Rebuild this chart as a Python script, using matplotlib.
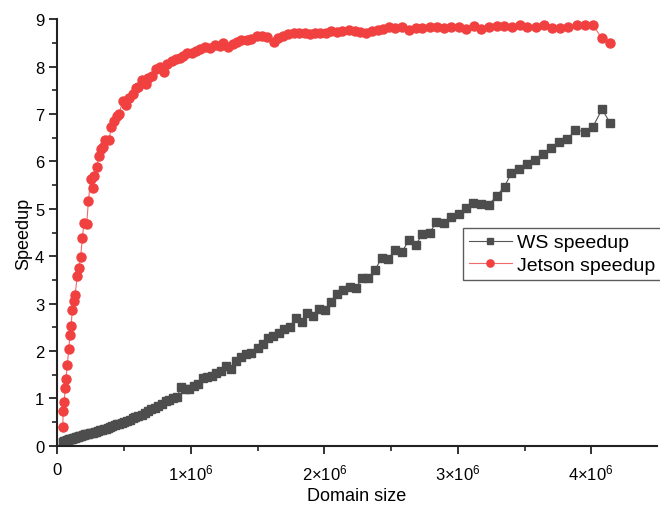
import numpy as np
import matplotlib
matplotlib.use("Agg")
import matplotlib.pyplot as plt
from matplotlib.ticker import MultipleLocator, FuncFormatter

plt.rcParams['font.family'] = ['Liberation Sans', 'DejaVu Sans']
plt.rcParams['mathtext.fontset'] = 'custom'
plt.rcParams['mathtext.rm'] = 'Liberation Sans'
plt.rcParams['mathtext.it'] = 'Liberation Sans:italic'

# WS speedup (domain size in millions)
ws_x = [0.040, 0.044, 0.048, 0.052, 0.056, 0.061, 0.066, 0.071, 0.076, 0.082,
        0.088, 0.094, 0.100, 0.107, 0.114, 0.121, 0.128, 0.136, 0.144, 0.152,
        0.161, 0.170, 0.179, 0.189, 0.199, 0.209, 0.220, 0.231, 0.242, 0.254,
        0.266, 0.279, 0.292, 0.305, 0.319, 0.333, 0.348, 0.363, 0.379, 0.395,
        0.411, 0.428, 0.446, 0.464, 0.483, 0.502, 0.522, 0.542, 0.563, 0.585,
        0.607, 0.630, 0.654, 0.678, 0.703, 0.729, 0.755, 0.782, 0.810, 0.838,
        0.867, 0.897, 0.927, 0.958, 0.989, 1.021, 1.054, 1.087, 1.121, 1.156,
        1.191, 1.227, 1.263, 1.300, 1.338, 1.376, 1.414, 1.454, 1.504, 1.541,
        1.579, 1.616, 1.661, 1.698, 1.741, 1.786, 1.829, 1.871, 1.916, 1.960,
        2.005, 2.050, 2.095, 2.140, 2.190, 2.235, 2.280, 2.330, 2.380, 2.430,
        2.480, 2.529, 2.579, 2.634, 2.684, 2.734, 2.789, 2.840, 2.894, 2.950,
        3.006, 3.060, 3.117, 3.170, 3.230, 3.290, 3.350, 3.400, 3.460, 3.520,
        3.580, 3.640, 3.700, 3.760, 3.820, 3.880, 3.950, 4.010, 4.080, 4.140]
ws_y = [0.08, 0.09, 0.09, 0.10, 0.10, 0.11, 0.11, 0.12, 0.12, 0.13,
        0.14, 0.14, 0.15, 0.15, 0.16, 0.17, 0.17, 0.18, 0.19, 0.19,
        0.20, 0.21, 0.21, 0.22, 0.23, 0.24, 0.24, 0.25, 0.26, 0.27,
        0.28, 0.29, 0.30, 0.31, 0.33, 0.34, 0.35, 0.36, 0.37, 0.39,
        0.41, 0.43, 0.45, 0.47, 0.49, 0.51, 0.52, 0.55, 0.58, 0.61,
        0.63, 0.66, 0.70, 0.73, 0.77, 0.80, 0.83, 0.88, 0.95, 0.97,
        1.00, 1.04, 1.24, 1.20, 1.19, 1.27, 1.30, 1.42, 1.45, 1.48,
        1.54, 1.57, 1.68, 1.63, 1.78, 1.88, 1.93, 1.96, 2.06, 2.15,
        2.27, 2.31, 2.38, 2.46, 2.51, 2.69, 2.62, 2.81, 2.73, 2.88,
        2.86, 3.03, 3.21, 3.28, 3.36, 3.32, 3.53, 3.54, 3.71, 3.97,
        3.95, 4.13, 4.08, 4.34, 4.23, 4.47, 4.49, 4.73, 4.71, 4.82,
        4.89, 5.02, 5.12, 5.10, 5.08, 5.27, 5.47, 5.75, 5.83, 5.94,
        6.04, 6.15, 6.28, 6.40, 6.47, 6.66, 6.63, 6.72, 7.10, 6.82]

# Jetson speedup (domain size in millions)
jet_x = [0.040, 0.044, 0.052, 0.057, 0.064, 0.074, 0.085, 0.094, 0.102, 0.112,
         0.122, 0.132, 0.149, 0.162, 0.174, 0.187, 0.199, 0.219, 0.232, 0.249,
         0.264, 0.277, 0.294, 0.311, 0.326, 0.344, 0.356, 0.386, 0.404, 0.424,
         0.444, 0.461, 0.489, 0.516, 0.538, 0.568, 0.588, 0.606, 0.631, 0.661,
         0.680, 0.706, 0.738, 0.768, 0.798, 0.823, 0.855, 0.888, 0.918, 0.942,
         0.972, 1.005, 1.037, 1.067, 1.105, 1.142, 1.180, 1.217, 1.242, 1.279,
         1.317, 1.347, 1.379, 1.417, 1.454, 1.496, 1.536, 1.571, 1.621, 1.654,
         1.691, 1.728, 1.771, 1.811, 1.853, 1.891, 1.928, 1.966, 2.010, 2.053,
         2.091, 2.135, 2.185, 2.228, 2.270, 2.315, 2.360, 2.402, 2.439, 2.484,
         2.527, 2.585, 2.634, 2.684, 2.734, 2.789, 2.844, 2.896, 2.951, 3.006,
         3.063, 3.118, 3.175, 3.233, 3.290, 3.346, 3.406, 3.463, 3.521, 3.583,
         3.643, 3.704, 3.767, 3.827, 3.892, 3.952, 4.014, 4.077, 4.140]
jet_y = [0.40, 0.73, 0.92, 1.21, 1.41, 1.71, 2.04, 2.34, 2.53, 2.87,
         3.06, 3.19, 3.58, 3.76, 3.99, 4.39, 4.70, 4.67, 5.16, 5.62,
         5.44, 5.70, 5.89, 6.12, 6.26, 6.31, 6.45, 6.45, 6.72, 6.85,
         6.95, 7.00, 7.27, 7.19, 7.33, 7.42, 7.54, 7.58, 7.71, 7.63,
         7.75, 7.81, 7.95, 8.00, 7.88, 8.05, 8.12, 8.16, 8.19, 8.23,
         8.28, 8.28, 8.32, 8.37, 8.42, 8.39, 8.46, 8.44, 8.49, 8.42,
         8.47, 8.53, 8.56, 8.56, 8.58, 8.65, 8.64, 8.62, 8.53, 8.60,
         8.65, 8.69, 8.71, 8.70, 8.70, 8.69, 8.70, 8.70, 8.72, 8.76,
         8.74, 8.76, 8.78, 8.76, 8.74, 8.72, 8.76, 8.77, 8.80, 8.83,
         8.81, 8.83, 8.77, 8.81, 8.81, 8.83, 8.83, 8.81, 8.83, 8.83,
         8.79, 8.85, 8.79, 8.83, 8.85, 8.85, 8.83, 8.88, 8.83, 8.83,
         8.87, 8.81, 8.81, 8.83, 8.88, 8.88, 8.88, 8.60, 8.50]

ws_color = '#4d4d4d'
jet_color = '#f04040'

fig = plt.figure(figsize=(6.6, 5.06), dpi=100)
ax = fig.add_axes([0.087, 0.117, 0.908, 0.843])

ax.plot(np.array(ws_x) * 1e6, ws_y, color='#555555', linewidth=0.8,
        marker='s', markersize=6, markerfacecolor=ws_color,
        markeredgecolor=ws_color, label='WS speedup')
ax.plot(np.array(jet_x) * 1e6, jet_y, color='#f26b6b', linewidth=0.8,
        marker='o', markersize=6.5, markerfacecolor=jet_color,
        markeredgecolor=jet_color, label='Jetson speedup')

ax.set_xlim(0, 4.49e6)
ax.set_ylim(0, 9)

ax.xaxis.set_major_locator(MultipleLocator(1e6))
ax.xaxis.set_minor_locator(MultipleLocator(0.5e6))
ax.yaxis.set_major_locator(MultipleLocator(1))
ax.yaxis.set_minor_locator(MultipleLocator(0.5))


def sci_fmt(v, pos):
    if v == 0:
        return '0'
    return r'$%d{\times}10^{6}$' % round(v / 1e6)


ax.xaxis.set_major_formatter(FuncFormatter(sci_fmt))

for side in ['top', 'right']:
    ax.spines[side].set_visible(False)
for side in ['left', 'bottom']:
    ax.spines[side].set_linewidth(1.5)
    ax.spines[side].set_color('#222222')

ax.tick_params(which='major', direction='out', length=6, width=1.3,
               labelsize=12, color='#222222')
ax.tick_params(which='minor', direction='out', length=3.5, width=1.2,
               color='#222222')
ax.tick_params(axis='x', pad=6)

ax.set_xlabel('Domain size', fontsize=13, labelpad=3)
ax.set_ylabel('Speedup', fontsize=13, labelpad=2)

leg = ax.legend(loc='upper left', bbox_to_anchor=(463 / 660, 1 - 229 / 506),
                bbox_transform=fig.transFigure, fontsize=14,
                frameon=True, fancybox=False, borderpad=0.3,
                handlelength=2.2, handletextpad=0.3, labelspacing=0.25,
                borderaxespad=0, markerscale=0.8)
leg.get_frame().set_edgecolor('#333333')
leg.get_frame().set_linewidth(1.0)

fig.savefig('out.png', dpi=100)
